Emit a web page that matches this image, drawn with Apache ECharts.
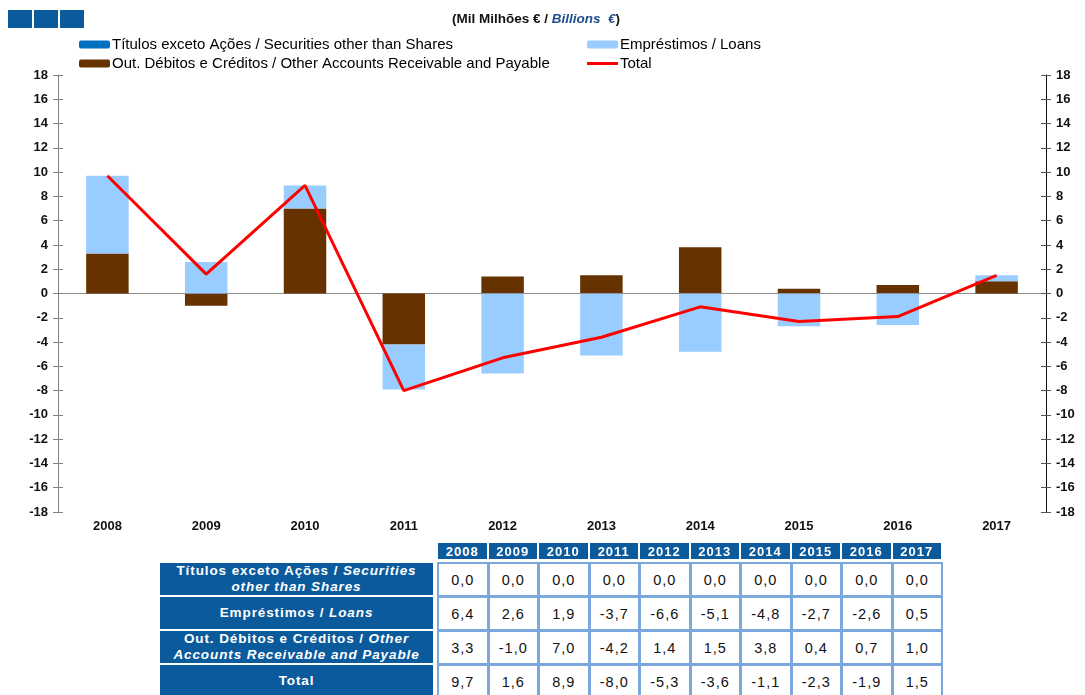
<!DOCTYPE html>
<html>
<head>
<meta charset="utf-8">
<script src="https://cdn.jsdelivr.net/npm/echarts@6/dist/echarts.min.js"></script>
<style>
  body { margin: 0; background: #fff; font-family: "Liberation Sans", Arial, sans-serif; }
  #wrap { position: relative; width: 1085px; height: 695px; overflow: hidden; }
  #chart { position: absolute; left: 0; top: 0; width: 1085px; height: 695px; }
  .cell { position: absolute; box-sizing: border-box; display: flex; align-items: center; justify-content: center; text-align: center; }
  .hdr { background: #0b5a9c; color: #fff; font-weight: bold; font-size: 13px; letter-spacing: 1px; }
  .lbl { background: #0b5a9c; color: #fff; font-weight: bold; font-size: 13.5px; line-height: 16px; letter-spacing: 0.9px; white-space: nowrap; }
  .val { background: #fff; color: #111; font-size: 14.5px; letter-spacing: 1px; border: 2px solid #7ba7dc; }
</style>
</head>
<body>
<div id="wrap">
  <div id="chart"></div>
  <div id="table"></div>
</div>
<script>
// categories
const years = ['2008', '2009', '2010', '2011', '2012', '2013', '2014', '2015', '2016', '2017'];
// series values (mil milhões €)
const securities = [0.0, 0.0, 0.0, 0.0, 0.0, 0.0, 0.0, 0.0, 0.0, 0.0];
const loans = [6.4, 2.6, 1.9, -3.7, -6.6, -5.1, -4.8, -2.7, -2.6, 0.5];
const otherAccounts = [3.3, -1.0, 7.0, -4.2, 1.4, 1.5, 3.8, 0.4, 0.7, 1.0];
const total = [9.7, 1.6, 8.9, -8.0, -5.3, -3.6, -1.1, -2.3, -1.9, 1.5];
// names
const nameSec = 'Títulos exceto Ações / Securities other than Shares';
const nameLoans = 'Empréstimos / Loans';
const nameOther = 'Out. Débitos e Créditos / Other Accounts Receivable and Payable';
const nameTotal = 'Total';
// table row labels: [plain, italic] per line
const rowLabels = [
  [['Títulos exceto Ações / ', 'Securities'], ['', 'other than Shares']],
  [['Empréstimos / ', 'Loans']],
  [['Out. Débitos e Créditos / ', 'Other'], ['', 'Accounts Receivable and Payable']],
  [['Total', '']]
];
const rowValues = [securities, loans, otherAccounts, total];

var FONT = '"Liberation Sans", Arial, sans-serif';
var chart = echarts.init(document.getElementById('chart'));

var axisLabel = { color: '#111', fontWeight: 'bold', fontSize: 13, fontFamily: FONT };
var yBase = { type: 'value', min: -18, max: 18, interval: 2, splitLine: { show: false } };

chart.setOption({
  animation: false,
  title: {
    left: 447, top: 7,
    text: '{a|(Mil Milhões € / }{b|Billions  €}{a|)}',
    textStyle: {
      rich: {
        a: { fontSize: 13.5, fontWeight: 'bold', color: '#111', fontFamily: FONT },
        b: { fontSize: 13.5, fontWeight: 'bold', fontStyle: 'italic', color: '#1f4e8c', fontFamily: FONT }
      }
    }
  },
  graphic: [
    { type: 'rect', left: 8, top: 10, shape: { width: 24, height: 18 }, style: { fill: '#0b5a9c' } },
    { type: 'rect', left: 34, top: 10, shape: { width: 24, height: 18 }, style: { fill: '#0b5a9c' } },
    { type: 'rect', left: 60, top: 10, shape: { width: 24, height: 18 }, style: { fill: '#0b5a9c' } }
  ],
  legend: [
    {
      left: 79, top: 36, orient: 'vertical', itemGap: 2, padding: 0,
      itemWidth: 31, itemHeight: 8,
      textStyle: { fontSize: 15, color: '#000', fontFamily: FONT, padding: [0, 0, 0, -3], lineHeight: 17 },
      data: [nameSec, nameOther]
    },
    {
      left: 587, top: 36, orient: 'vertical', itemGap: 2, padding: 0,
      itemWidth: 31, itemHeight: 8,
      textStyle: { fontSize: 15, color: '#000', fontFamily: FONT, padding: [0, 0, 0, -3], lineHeight: 17 },
      data: [nameLoans, { name: nameTotal, icon: 'path://M0,0 L31,0 L31,3 L0,3 Z' }]
    }
  ],
  grid: { left: 58, right: 39, top: 75, bottom: 183 },
  xAxis: [
    {
      type: 'category', data: years, position: 'bottom',
      axisLine: { show: false, onZero: false }, axisTick: { show: false },
      axisLabel: Object.assign({ margin: 8 }, axisLabel)
    },
    {
      type: 'category', data: years,
      axisLine: { show: true, onZero: true, lineStyle: { color: '#8c8c8c', width: 1 } },
      axisTick: { show: false }, axisLabel: { show: false }
    }
  ],
  yAxis: [
    Object.assign({}, yBase, {
      position: 'left',
      axisLine: { show: true, lineStyle: { color: '#808080' } },
      axisTick: { show: true, length: 5, lineStyle: { color: '#808080' } },
      axisLabel: Object.assign({ margin: 10 }, axisLabel)
    }),
    Object.assign({}, yBase, {
      position: 'right',
      axisLine: { show: true, lineStyle: { color: '#111' } },
      axisTick: { show: true, length: 5, lineStyle: { color: '#555' } },
      axisLabel: Object.assign({ margin: 10 }, axisLabel)
    }),
    // inner halves of the crossing ticks
    Object.assign({}, yBase, {
      position: 'left', axisLine: { show: false }, axisLabel: { show: false },
      axisTick: { show: true, inside: true, length: 5, lineStyle: { color: '#808080' } }
    }),
    Object.assign({}, yBase, {
      position: 'right', axisLine: { show: false }, axisLabel: { show: false },
      axisTick: { show: true, inside: true, length: 5, lineStyle: { color: '#555' } }
    })
  ],
  series: [
    { name: nameSec, type: 'bar', stack: 'a', barWidth: '43%', data: securities, itemStyle: { color: '#0070c0' } },
    { name: nameOther, type: 'bar', stack: 'a', barWidth: '43%', data: otherAccounts, itemStyle: { color: '#663300' } },
    { name: nameLoans, type: 'bar', stack: 'a', barWidth: '43%', data: loans, itemStyle: { color: '#99ccff' } },
    { name: nameTotal, type: 'line', data: total, symbol: 'none', lineStyle: { color: '#ff0000', width: 3 }, itemStyle: { color: '#ff0000' }, z: 5 }
  ]
});

// table under the chart
var tbl = document.getElementById('table');
var colLeft = 438, colW = 50.5;
var rowTops = [563, 597, 631, 665], rowH = 34;
var html = '';
years.forEach(function (y, i) {
  html += '<div class="cell hdr" style="left:' + (colLeft + i * colW) + 'px;top:543px;width:' + (colW - 2) + 'px;height:16px;">' + y + '</div>';
});
rowLabels.forEach(function (lines, r) {
  var txt = lines.map(function (l) {
    return l[0] + (l[1] ? '<i>' + l[1] + '</i>' : '');
  }).join('<br>');
  html += '<div class="cell lbl" style="left:160px;top:' + rowTops[r] + 'px;width:273px;height:' + (rowH - 2) + 'px;"><span>' + txt + '</span></div>';
  rowValues[r].forEach(function (v, i) {
    html += '<div class="cell val" style="left:' + (colLeft + i * colW - 1) + 'px;top:' + (rowTops[r] - 1) + 'px;width:' + (colW + 1) + 'px;height:' + (rowH + 1) + 'px;">' +
      v.toFixed(1).replace('.', ',') + '</div>';
  });
});
tbl.innerHTML = html;
</script>
</body>
</html>
